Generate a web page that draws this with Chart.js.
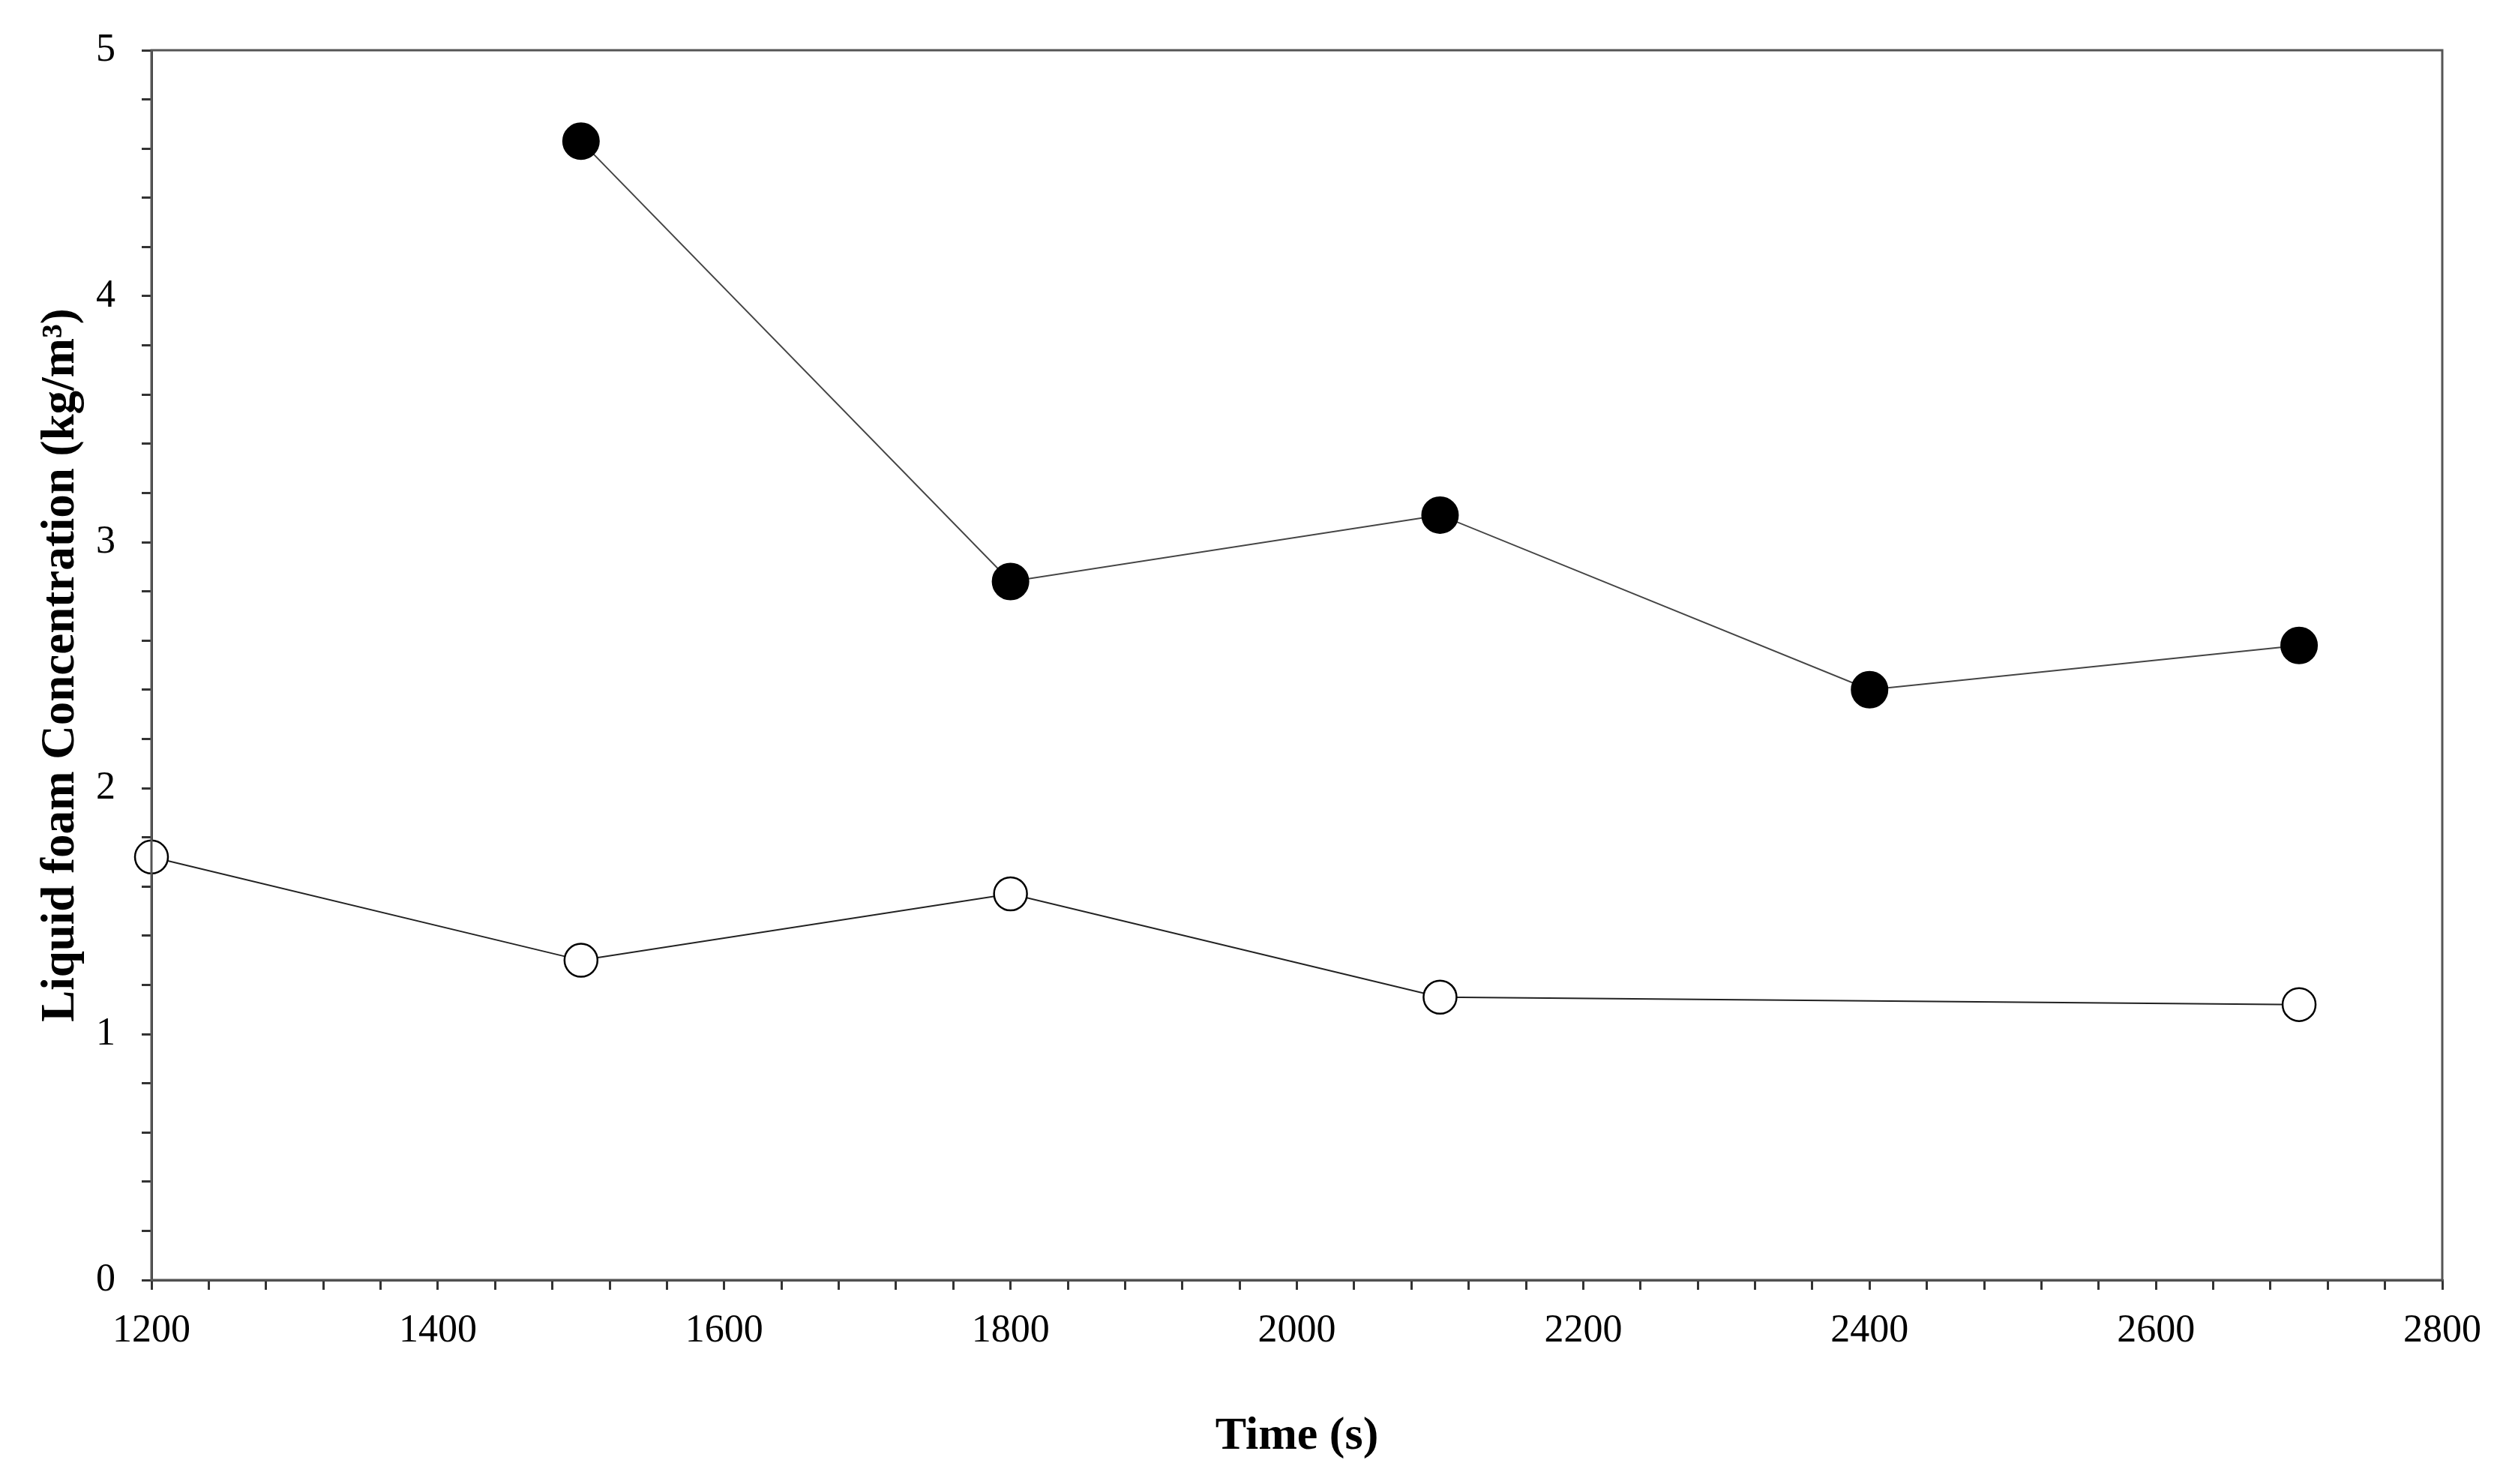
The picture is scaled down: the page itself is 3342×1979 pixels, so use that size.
<!DOCTYPE html>
<html>
<head>
<meta charset="utf-8">
<script src="https://cdn.jsdelivr.net/npm/chart.js@4"></script>
<style>
html,body{margin:0;padding:0;background:#fff;}
#wrap{width:3342px;height:1979px;}
</style>
</head>
<body>
<div id="wrap"><canvas id="c" width="3342" height="1979"></canvas></div>
<script>
const times = [1200, 1500, 1800, 2100, 2400, 2700];
const filledSeries = [null, 4.63, 2.84, 3.11, 2.40, 2.58];
const openSeries = [1.72, 1.30, 1.57, 1.15, null, 1.12];
const xTickLabels = [1200, 1400, 1600, 1800, 2000, 2200, 2400, 2600, 2800];
const yTickLabels = [0, 1, 2, 3, 4, 5];
const xTitle = 'Time (s)';
const yTitle = 'Liquid foam Concentration (kg/m³)';

const toPts = arr => times.map((t, i) => ({x: t, y: arr[i]}));

const frame = {
  id: 'frame',
  afterDraw(chart) {
    const {ctx, chartArea: a} = chart;
    ctx.save();
    ctx.strokeStyle = '#555';
    ctx.lineWidth = 3;
    ctx.strokeRect(a.left, a.top, a.right - a.left, a.bottom - a.top);
    ctx.restore();
  }
};

const serif = "'Liberation Serif', 'Times New Roman', serif";

new Chart(document.getElementById('c'), {
  type: 'line',
  data: {
    datasets: [
      {
        data: toPts(filledSeries),
        borderColor: '#444',
        borderWidth: 2,
        pointRadius: 24,
        pointBackgroundColor: '#000',
        pointBorderColor: '#000',
        pointBorderWidth: 2,
        spanGaps: true,
        clip: false
      },
      {
        data: toPts(openSeries),
        borderColor: '#222',
        borderWidth: 2,
        pointRadius: 22,
        pointBackgroundColor: '#fff',
        pointBorderColor: '#000',
        pointBorderWidth: 2.5,
        spanGaps: true,
        clip: false
      }
    ]
  },
  options: {
    responsive: false,
    animation: false,
    devicePixelRatio: 1,
    layout: {padding: {left: 0, top: 67, right: 85, bottom: 0}},
    plugins: {legend: {display: false}, tooltip: {enabled: false}},
    scales: {
      x: {
        type: 'linear',
        min: xTickLabels[0],
        max: xTickLabels[xTickLabels.length - 1],
        afterFit(s) { s.height = 272; },
        border: {display: true, color: '#333', width: 3},
        grid: {display: true, drawOnChartArea: false, drawTicks: true, tickLength: 13, color: '#333', lineWidth: 3},
        ticks: {
          stepSize: 40,
          autoSkip: false,
          maxRotation: 0,
          padding: 24,
          color: '#000',
          font: {family: serif, size: 52},
          callback: v => xTickLabels.includes(Math.round(v)) && Math.abs(v % 200) < 1e-6 ? String(Math.round(v)) : ''
        },
        title: {display: true, text: xTitle, color: '#000', font: {family: serif, size: 62, weight: 'bold'}, padding: {top: 0, bottom: 26}}
      },
      y: {
        min: yTickLabels[0],
        max: yTickLabels[yTickLabels.length - 1],
        afterFit(s) { s.width = 202; },
        border: {display: true, color: '#333', width: 3},
        grid: {display: true, drawOnChartArea: false, drawTicks: true, tickLength: 13, color: '#333', lineWidth: 3},
        ticks: {
          stepSize: 0.2,
          autoSkip: false,
          padding: 35,
          color: '#000',
          font: {family: serif, size: 52},
          callback: v => {
            const r = Math.round(v);
            return Math.abs(v - r) < 1e-6 && yTickLabels.includes(r) ? String(r) : '';
          }
        },
        title: {display: true, text: yTitle, color: '#000', font: {family: serif, size: 63, weight: 'bold'}, padding: {top: 44, bottom: 0}}
      }
    }
  },
  plugins: [frame]
});
</script>
</body>
</html>
